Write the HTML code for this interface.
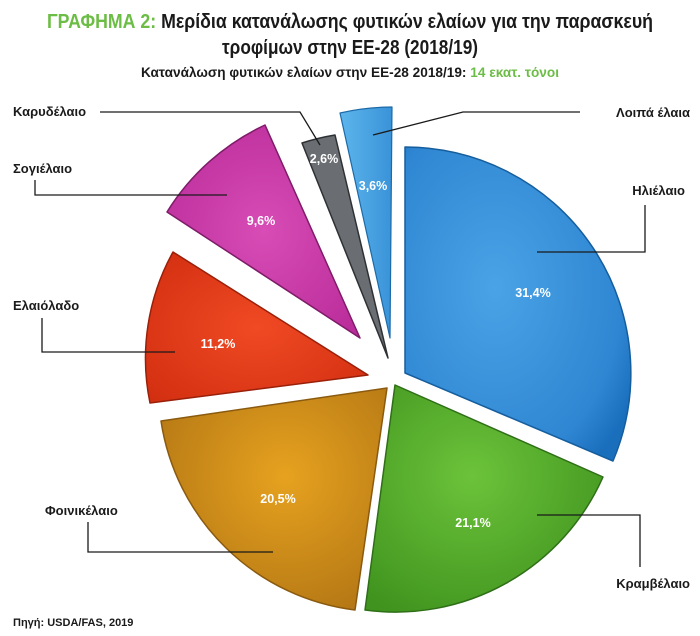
<!DOCTYPE html>
<html><head><meta charset="utf-8"><style>
body{margin:0;background:#fff;}
svg{display:block;}
text{font-family:"Liberation Sans Narrow","Liberation Sans",sans-serif;}
</style></head><body>
<svg width="700" height="636" viewBox="0 0 700 636" xmlns="http://www.w3.org/2000/svg">
<defs>
<radialGradient id="gb" cx="0.4" cy="0.45" r="0.7"><stop offset="0" stop-color="#4aa3e6"/><stop offset="0.8" stop-color="#2f86d2"/><stop offset="1" stop-color="#1a6fbd"/></radialGradient>
<radialGradient id="gg" cx="0.45" cy="0.4" r="0.7"><stop offset="0" stop-color="#6cc33a"/><stop offset="1" stop-color="#3f931e"/></radialGradient>
<radialGradient id="go" cx="0.55" cy="0.4" r="0.7"><stop offset="0" stop-color="#e6a21f"/><stop offset="1" stop-color="#b27514"/></radialGradient>
<radialGradient id="gr" cx="0.5" cy="0.5" r="0.7"><stop offset="0" stop-color="#f04a24"/><stop offset="1" stop-color="#d12e10"/></radialGradient>
<radialGradient id="gm" cx="0.5" cy="0.5" r="0.7"><stop offset="0" stop-color="#d84cb6"/><stop offset="1" stop-color="#b72a98"/></radialGradient>
<linearGradient id="gs" x1="0" y1="0" x2="1" y2="0"><stop offset="0" stop-color="#5db5ec"/><stop offset="1" stop-color="#3a93d8"/></linearGradient>
</defs>
<text x="350" y="28" text-anchor="middle" font-size="20" font-weight="bold" fill="#1a1a1a" textLength="606" lengthAdjust="spacingAndGlyphs"><tspan fill="#6cbd45">ΓΡΑΦΗΜΑ 2:</tspan> Μερίδια κατανάλωσης φυτικών ελαίων για την παρασκευή</text>
<text x="350" y="54" text-anchor="middle" font-size="20" font-weight="bold" fill="#1a1a1a" textLength="256" lengthAdjust="spacingAndGlyphs">τροφίμων στην ΕΕ-28 (2018/19)</text>
<text x="350" y="77" text-anchor="middle" font-size="13.5" font-weight="bold" fill="#1a1a1a" textLength="418" lengthAdjust="spacingAndGlyphs">Κατανάλωση φυτικών ελαίων στην ΕΕ-28 2018/19: <tspan fill="#6cbd45">14 εκατ. τόνοι</tspan></text>

<g stroke-linejoin="round">
<path d="M405,373 L405,147 A226,226 0 0 1 613,461 Z" fill="url(#gb)" stroke="#155e9e" stroke-width="1.5"/>
<path d="M395,385 L603,477 A227,227 0 0 1 365,610 Z" fill="url(#gg)" stroke="#2f6f18" stroke-width="1.5"/>
<path d="M387,388 L355,610 A224,224 0 0 1 161,421 Z" fill="url(#go)" stroke="#8a5a0f" stroke-width="1.5"/>
<path d="M368,375 L150,403 A220,220 0 0 1 173,252 Z" fill="url(#gr)" stroke="#9a200a" stroke-width="1.5"/>
<path d="M360,338 L167,212 A230,230 0 0 1 265,125 Z" fill="url(#gm)" stroke="#7e1c68" stroke-width="1.5"/>
<path d="M388,358 L302,143 A231,231 0 0 1 335,135 Z" fill="#6a6e72" stroke="#2e3134" stroke-width="1.5"/>
<path d="M390,338 L340,113 A231,231 0 0 1 392,107 Z" fill="url(#gs)" stroke="#1d6aa8" stroke-width="1.2"/>
</g>

<g font-size="12.5" font-weight="bold" fill="#fff" text-anchor="middle">
<text x="533" y="297">31,4%</text>
<text x="473" y="527">21,1%</text>
<text x="278" y="503">20,5%</text>
<text x="218" y="348">11,2%</text>
<text x="261" y="225">9,6%</text>
<text x="324" y="163">2,6%</text>
<text x="373" y="190">3,6%</text>
</g>

<g fill="none" stroke="#1a1a1a" stroke-width="1.3">
<polyline points="100,112 300,112 320,145"/>
<polyline points="373,135 463,112 580,112"/>
<polyline points="35,180 35,195 227,195"/>
<polyline points="645,205 645,252 537,252"/>
<polyline points="42,318 42,352 175,352"/>
<polyline points="88,522 88,552 273,552"/>
<polyline points="640,567 640,515 537,515"/>
</g>

<g font-size="13" font-weight="bold" fill="#1a1a1a">
<text x="13" y="116">Καρυδέλαιο</text>
<text x="690" y="117" text-anchor="end">Λοιπά έλαια</text>
<text x="13" y="173">Σογιέλαιο</text>
<text x="685" y="195" text-anchor="end">Ηλιέλαιο</text>
<text x="13" y="310">Ελαιόλαδο</text>
<text x="45" y="515">Φοινικέλαιο</text>
<text x="690" y="588" text-anchor="end">Κραμβέλαιο</text>
<text x="13" y="626" font-size="11">Πηγή: USDA/FAS, 2019</text>
</g>
</svg>
</body></html>
